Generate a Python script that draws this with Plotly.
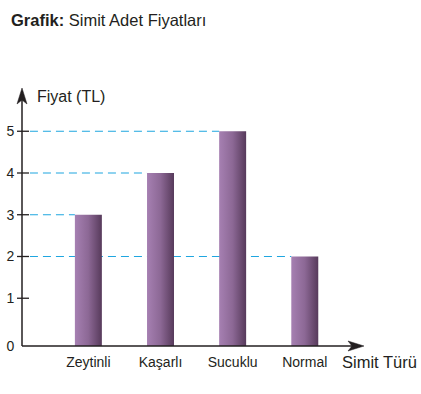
import plotly.graph_objects as go

# ---- data ----
categories = ["Zeytinli", "Kaşarlı", "Sucuklu", "Normal"]
prices = [3, 4, 5, 2]
y_ticks = [1, 2, 3, 4, 5]
title_bold = "Grafik:"
title_rest = "Simit Adet Fiyatları"
y_title = "Fiyat (TL)"
x_title = "Simit Türü"

# ---- style / geometry ----
W, H = 421, 394
L, R, T, B = 22, 363, 90, 346          # plot area in pixels
X_RANGE = [-0.92, 3.807]
Y_RANGE = [-0.144, 5.988]
BASE = Y_RANGE[0]
HALF = 0.187
DASH_START = -0.81
INK = "#231f20"
BLUE = "#1fa6e0"
FONT = "Liberation Sans, Arial, sans-serif"
GRAD = [[0, "#a680b2"], [0.5, "#8c6895"], [1, "#573a5b"]]


def px(x):
    return (x - L) / (R - L)


def py(y):
    return (B - y) / (B - T)


fig = go.Figure()

# dashed guide lines (drawn first so bars cover them)
for i, v in enumerate(prices):
    fig.add_trace(go.Scatter(
        x=[DASH_START, i - HALF], y=[v, v], mode="lines",
        line=dict(color=BLUE, width=1.1, dash="8px,5px"),
        hoverinfo="skip", showlegend=False))

# bars with horizontal gradient
for i, (c, v) in enumerate(zip(categories, prices)):
    fig.add_trace(go.Scatter(
        x=[i - HALF, i + HALF, i + HALF, i - HALF, i - HALF],
        y=[BASE, BASE, v, v, BASE],
        mode="lines", fill="toself", line=dict(width=0),
        fillgradient=dict(type="horizontal", colorscale=GRAD),
        name=c, showlegend=False, hoverinfo="text", text=f"{c}: {v} TL"))

shapes = []
# axis lines
shapes.append(dict(type="line", xref="paper", yref="paper",
                   x0=px(22), y0=py(346), x1=px(22), y1=py(96),
                   line=dict(color=INK, width=1.5)))
shapes.append(dict(type="line", xref="paper", yref="paper",
                   x0=px(22), y0=py(346), x1=px(354), y1=py(346),
                   line=dict(color=INK, width=1.5)))
# arrow heads
shapes.append(dict(type="path", xref="paper", yref="paper",
                   path=f"M {px(22)},{py(88)} L {px(17)},{py(104)} L {px(22)},{py(100)} "
                        f"L {px(27)},{py(104)} Z",
                   fillcolor=INK, line=dict(color=INK, width=0.5)))
shapes.append(dict(type="path", xref="paper", yref="paper",
                   path=f"M {px(364)},{py(346)} L {px(348)},{py(341)} L {px(352)},{py(346)} "
                        f"L {px(348)},{py(351)} Z",
                   fillcolor=INK, line=dict(color=INK, width=0.5)))
# tick marks crossing the y axis
for t in y_ticks:
    shapes.append(dict(type="line", xref="paper", yref="y",
                       x0=px(17), x1=px(29), y0=t, y1=t,
                       line=dict(color=INK, width=1.3)))

annotations = [
    dict(text=f"<b>{title_bold}</b> {title_rest}", xref="paper", yref="paper",
         x=px(9), y=py(20), xanchor="left", yanchor="middle", showarrow=False,
         font=dict(size=16.5, color=INK, family=FONT)),
    dict(text=y_title, xref="paper", yref="paper",
         x=px(35), y=py(96), xanchor="left", yanchor="middle", showarrow=False,
         font=dict(size=16, color=INK, family=FONT)),
    dict(text=x_title, xref="paper", yref="paper",
         x=px(340), y=py(362), xanchor="left", yanchor="middle", showarrow=False,
         font=dict(size=16.5, color=INK, family=FONT)),
]

fig.update_layout(
    width=W, height=H,
    margin=dict(l=L, r=W - R, t=T, b=H - B, pad=0, autoexpand=False),
    paper_bgcolor="white", plot_bgcolor="white",
    showlegend=False,
    shapes=shapes, annotations=annotations,
    font=dict(family=FONT, color=INK, size=14),
    xaxis=dict(range=X_RANGE, showgrid=False, zeroline=False, showline=False,
               automargin=False,
               tickmode="array", tickvals=list(range(len(categories))),
               ticktext=categories, ticks="outside", ticklen=3,
               tickcolor="rgba(0,0,0,0)", tickfont=dict(size=14, color=INK),
               fixedrange=True),
    yaxis=dict(range=Y_RANGE, showgrid=False, zeroline=False, showline=False,
               automargin=False,
               tickmode="array", tickvals=[BASE] + y_ticks,
               ticktext=["0"] + [str(t) for t in y_ticks],
               ticks="outside", ticklen=4, tickcolor="rgba(0,0,0,0)",
               tickfont=dict(size=14, color=INK), fixedrange=True),
)

fig.write_html("out.html", config={"displayModeBar": False},
               post_script="document.body.style.margin='0';"
                           "document.body.style.overflow='hidden';")
